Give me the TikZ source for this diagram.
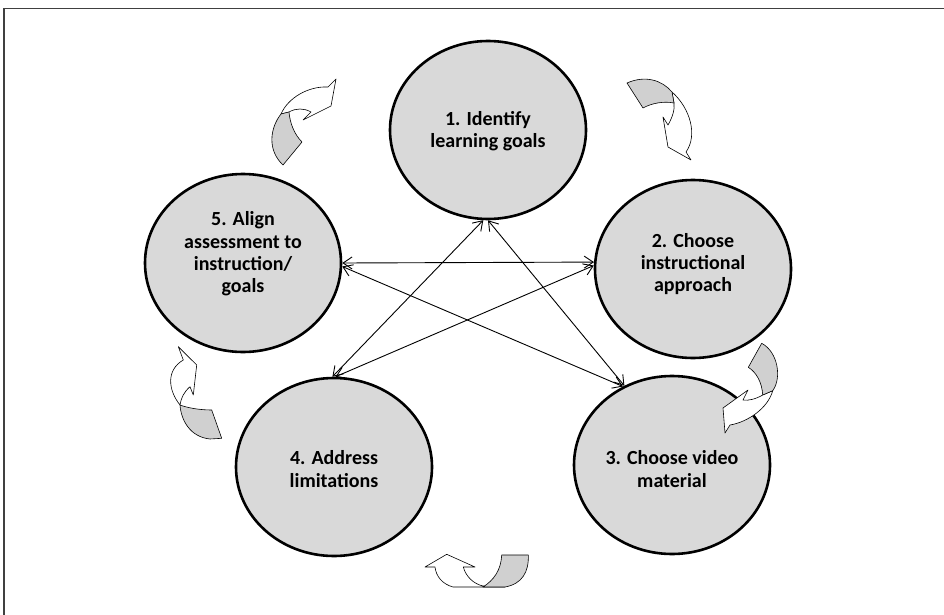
\documentclass[tikz,border=0pt]{standalone}
\usepackage{fontspec}
\setmainfont{Carlito}
\usetikzlibrary{arrows.meta,shapes.geometric}
\definecolor{nodegray}{HTML}{D9D9D9}
\definecolor{tailgray}{HTML}{D0D0D0}
\begin{document}
\begin{tikzpicture}[x=1pt,y=-1pt,
  stage/.style={ellipse, draw, line width=2.6pt, fill=nodegray, minimum width=196pt, minimum height=178pt, inner sep=0pt},
  stagetext/.style={align=center, inner sep=0pt, font=\fontsize{20}{22.3}\selectfont\bfseries},
  link/.style={{Straight Barb[length=9pt,width=12pt]}-{Straight Barb[length=9pt,width=12pt]}, line width=0.9pt},
  tail/.style={draw, line width=0.6pt, fill=tailgray, line join=round},
  body/.style={draw, line width=0.6pt, fill=white, line join=round}]
\useasboundingbox (0,0) rectangle (944,615);
\draw[line width=1.5pt, black!75] (4,615) -- (4,8.5) -- (944,8.5);

\node[stage] (n1) at (488,130) {};
\node[stage] (n2) at (693,269) {};
\node[stage] (n3) at (672,465) {};
\node[stage] (n4) at (334,467) {};
\node[stage] (n5) at (243,263) {};
\node[stagetext] (t1) at (488,131) {1. Identify\\learning goals};
\node[stagetext] (t2) at (693,264) {2. Choose\\instructional\\approach};
\node[stagetext] (t3) at (672,469) {3. Choose video\\material};
\node[stagetext] (t4) at (334,469) {4. Address\\limitations};
\node[stagetext] (t5) at (243,254) {5. Align\\assessment to\\instruction/\\goals};

\draw[link] (n5.0) -- (n2.176);
\draw[link] (n5.-2) -- (n3.122);
\draw[link] (n4.89) -- (n2.178);
\draw[link] (n1.-93) -- (n4.91);
\draw[link] (n1.-90) -- (n3.121);

% A: 5 -> 1
\draw[body] (281,114) .. controls (288,98) and (308,86) .. (328,87) -- (336,79) -- (331,106) -- (303,120) -- (311,112) .. controls (304,108) and (296,108) .. (289,112) -- cycle;
\draw[tail] (281,114) .. controls (270,128) and (267,150) .. (283,165) -- (302,142) .. controls (294,134) and (290,123) .. (289,112) -- cycle;
% B: 1 -> 2
\draw[body] (672,92) .. controls (690,108) and (698,135) .. (686,152) -- (691,160) -- (668,147) -- (663,117) -- (668,125) .. controls (672,118) and (675,110) .. (674,103) -- cycle;
\draw[tail] (627,83) .. controls (645,75) and (662,80) .. (672,92) -- (674,103) .. controls (664,101) and (652,103) .. (643,108) -- cycle;
% C: 2 -> 3
\draw[body] (772.7,390.7) .. controls (768,408) and (748,422) .. (730,425) -- (725,433) -- (723,408) -- (748,390) -- (743,400) .. controls (748,401) and (756,399) .. (762.7,395) -- cycle;
\draw[tail] (761.7,343.3) .. controls (778,352) and (782,378) .. (772.7,390.7) -- (762.7,395) .. controls (762,382) and (756,372) .. (748.3,367.3) -- cycle;
% D: 3 -> 4
\draw[body] (505,587) -- (453,587) .. controls (442,584) and (436,576) .. (435,567) -- (425,567) -- (446.7,554.3) -- (475,567) -- (463.3,567) .. controls (466,577) and (474,584) .. (483,586) -- cycle;
\draw[tail] (501.7,555) -- (528.3,555) .. controls (529,572) and (522,584) .. (505,587) -- (483,587) .. controls (494,580) and (501,570) .. (501.7,555) -- cycle;
% E: 4 -> 5
\draw[body] (180,405) .. controls (168,390) and (166,370) .. (183.3,360) -- (178.3,346.7) -- (196.7,365) -- (193.3,395) -- (190,386.7) .. controls (184,392) and (181,398) .. (180,405) -- cycle;
\draw[tail] (180,405) .. controls (181,420) and (190,437) .. (210,439) -- (221.7,438.3) -- (211.7,410) .. controls (200,410) and (188,408) .. (180,405) -- cycle;
\end{tikzpicture}
\end{document}
